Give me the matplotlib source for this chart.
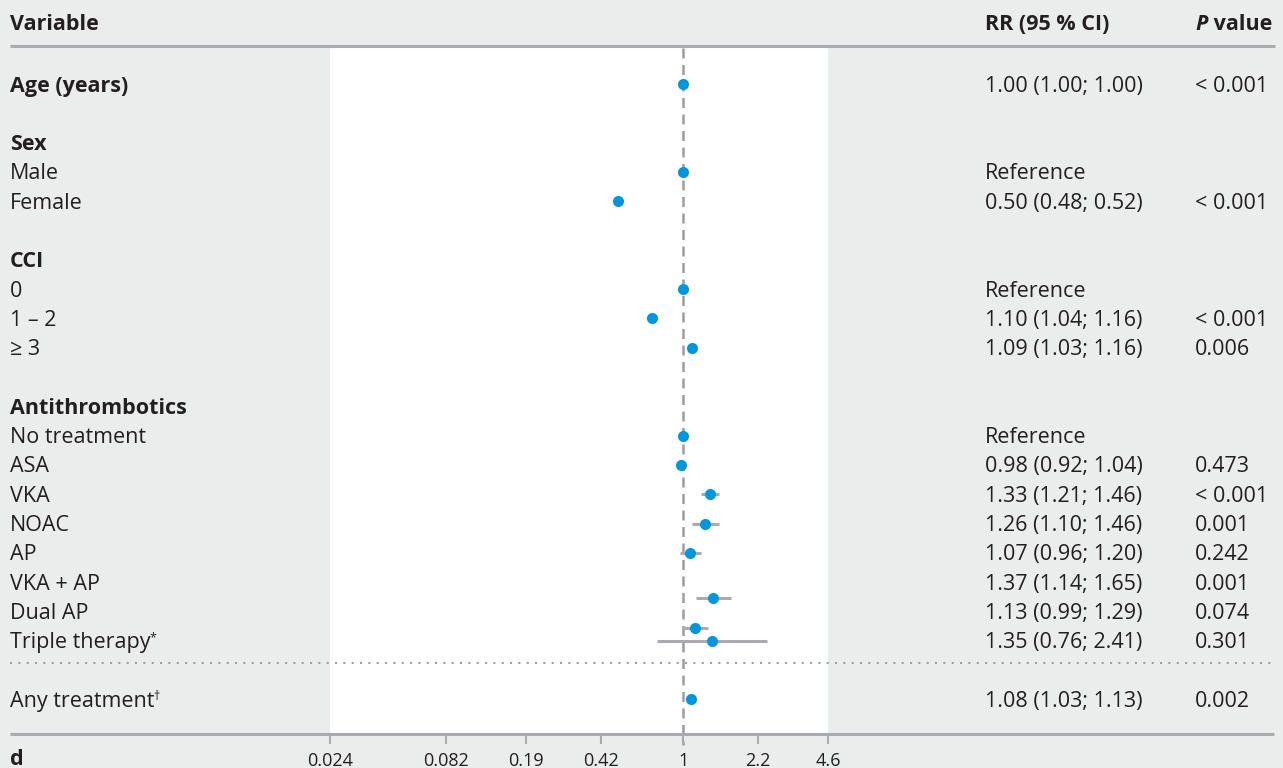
import matplotlib
matplotlib.use("Agg")
from matplotlib import pyplot as plt
from matplotlib.transforms import blended_transform_factory
from matplotlib.ticker import NullLocator

plt.rcParams['font.family'] = ['Open Sans', 'DejaVu Sans']

# table content
variables = ["Age (years)", "Sex", "Male", "Female", "CCI", "0", "1 \u2013 2", "\u2265 3",
             "Antithrombotics", "No treatment", "ASA", "VKA", "NOAC", "AP", "VKA + AP",
             "Dual AP", "Triple therapy", "Any treatment"]
is_header = [True, True, False, False, True, False, False, False,
             True, False, False, False, False, False, False, False, False, False]
superscripts = ["", "", "", "", "", "", "", "", "", "", "", "", "", "", "", "", "*", "\u2020"]
rr_text = ["1.00 (1.00; 1.00)", "", "Reference", "0.50 (0.48; 0.52)", "", "Reference",
           "1.10 (1.04; 1.16)", "1.09 (1.03; 1.16)", "", "Reference", "0.98 (0.92; 1.04)",
           "1.33 (1.21; 1.46)", "1.26 (1.10; 1.46)", "1.07 (0.96; 1.20)", "1.37 (1.14; 1.65)",
           "1.13 (0.99; 1.29)", "1.35 (0.76; 2.41)", "1.08 (1.03; 1.13)"]
p_text = ["< 0.001", "", "", "< 0.001", "", "", "< 0.001", "0.006", "", "", "0.473",
          "< 0.001", "0.001", "0.242", "0.001", "0.074", "0.301", "0.002"]

# plotted estimates and whiskers
est = [1.00, None, 1.00, 0.50, None, 1.00, 0.72, 1.09, None, 1.00, 0.98,
       1.33, 1.26, 1.07, 1.37, 1.13, 1.35, 1.08]
lo = [None, None, None, None, None, None, None, None, None, None, None,
      1.21, 1.10, 0.96, 1.14, 0.99, 0.76, None]
hi = [None, None, None, None, None, None, None, None, None, None, None,
      1.46, 1.46, 1.20, 1.65, 1.29, 2.41, None]

ticks = [0.024, 0.082, 0.19, 0.42, 1, 2.2, 4.6]
tick_labels = ["0.024", "0.082", "0.19", "0.42", "1", "2.2", "4.6"]

# layout: row index of each line, marker rows (two markers sit a bit low in the original)
rows = [0, 2, 3, 4, 6, 7, 8, 9, 11, 12, 13, 14, 15, 16, 17, 18, 19, 21]
marker_shift = [0, 0, 0, 0, 0, 0, 0, 0, 0, 0, 0, 0, 0, 0, 0.53, 0.56, 0, 0]

W, H = 1283, 768
bg = '#ebecec'
txt = '#231f20'
gray = '#a9abae'
blue = '#0096db'
row_h = 29.3
y0 = 84
text_dy = 0.07   # Open Sans centres a little high


def r(ypx):
    return (ypx - y0) / row_h


fig = plt.figure(figsize=(W / 100, H / 100), dpi=100, facecolor=bg)
ax = fig.add_axes([330 / W, 1 - 734 / H, 498 / W, (734 - 47) / H])
ax.set_facecolor('white')
ax.set_xscale('log')
ax.set_xlim(0.0243, 4.6)
ax.set_ylim(r(734), r(47))
for s in ax.spines.values():
    s.set_visible(False)
ax.set_yticks([])
ax.set_xticks(ticks)
ax.set_xticklabels(tick_labels)
ax.xaxis.set_minor_locator(NullLocator())
ax.tick_params(axis='x', length=7.5, width=1.5, color=gray, direction='out',
               pad=5.5, labelsize=13, labelcolor=txt)

trans = blended_transform_factory(fig.transFigure, ax.transData)

# reference line at 1
ax.plot([1, 1], [r(48), r(745)], ls=(0, (4, 2.6)), lw=1.8, color='#9c9da0',
        clip_on=False, zorder=1)

# horizontal rules
ax.plot([10 / W, 1275 / W], [r(46), r(46)], transform=trans, lw=2.2, color=gray,
        clip_on=False, solid_capstyle='butt')
ax.plot([10 / W, 1274 / W], [r(734), r(734)], transform=trans, lw=2.2, color=gray,
        clip_on=False, solid_capstyle='butt', zorder=3)
ax.plot([10 / W, 1275 / W], [r(663), r(663)], transform=trans, ls=(0, (1, 3)), lw=1.5,
        color='#9d9fa2', clip_on=False)

# whiskers and markers
for i in range(len(variables)):
    if est[i] is None:
        continue
    yy = rows[i] + marker_shift[i]
    if lo[i] is not None:
        ax.plot([lo[i], hi[i]], [yy, yy], color=gray, lw=2.2, solid_capstyle='butt', zorder=2)
    ax.plot(est[i], yy, 'o', ms=8, color=blue, mec='none', zorder=4)

# header
fs = 15.5
hy = r(22) + text_dy
ax.text(10 / W, hy, "Variable", transform=trans, fontsize=fs, fontweight='bold',
        color=txt, va='center', ha='left')
ax.text(985 / W, hy, "RR (95 % CI)", transform=trans, fontsize=fs, fontweight='bold',
        color=txt, va='center', ha='left')
pt = ax.text(1195 / W, hy, "P", transform=trans, fontsize=fs, fontweight='bold',
             style='italic', color=txt, va='center', ha='left')
ax.annotate(" value", xy=(1, 0.5), xycoords=pt, fontsize=fs, fontweight='bold',
            color=txt, va='center', ha='left')

# rows
for i, name in enumerate(variables):
    ty = rows[i] + text_dy
    t = ax.text(10 / W, ty, name, transform=trans, fontsize=fs, color=txt,
                fontweight='bold' if is_header[i] else 'normal', va='center', ha='left')
    if superscripts[i]:
        ax.annotate(superscripts[i], xy=(0.99, 0.75), xycoords=t, fontsize=9, color=txt,
                    va='center', ha='left')
    if rr_text[i]:
        ax.text(985 / W, ty, rr_text[i], transform=trans, fontsize=fs, color=txt,
                va='center', ha='left')
    if p_text[i]:
        ax.text(1195 / W, ty, p_text[i], transform=trans, fontsize=fs, color=txt,
                va='center', ha='left')

ax.text(10 / W, r(757) + text_dy, "d", transform=trans, fontsize=fs, fontweight='bold',
        color=txt, va='center', ha='left')

fig.savefig("out.png", dpi=100, facecolor=bg)
